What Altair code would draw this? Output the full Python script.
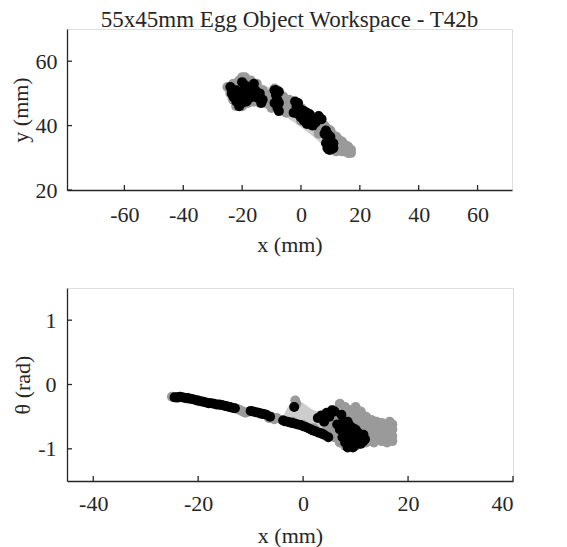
import altair as alt
import pandas as pd

# ---------------- data ----------------
# Top panel: object position x, y (mm)
top_gray_x = [-25, -24, -23, -22, -21, -20, -19, -18, -17, -16, -15, -14, -13, -12, -11, -10, -9, -8, -7, -6,
              -5, -4, -3, -2, -1, 0, 1, 2, 3, 4, 5, 6, 7, 8, 9, 10, 11, 12, 13, 14, 15, 16, 17, 16, 14, 12,
              -20, -18, -16, -22, -13, -10, -5, 0, 6, 11,
              -24, -23, -21, -19, -17, -15, -13, -11, -10, -9, -8, -6, -4, -3, -2, -1, 1, 2, 3, 5, 6, 7, 8, 9,
              10, 11, 12, 13, 14, 15, 16, 17, 13, 11, -14, -12]
top_gray_y = [52, 50, 48, 53, 54, 55, 53, 51, 54, 52, 53, 50, 51, 49, 47, 50, 51.5, 49, 47, 49,
              46.5, 48, 45, 46.5, 44, 45.5, 42.5, 44, 41, 42.5, 40, 42, 39, 40, 37, 38.5, 35, 36.5, 34, 35, 33, 33.5, 32.5, 31.5, 32, 32,
              46, 47, 47.5, 46, 47.5, 45.5, 44, 41.5, 37.5, 33,
              51, 53, 52, 55, 52, 51, 49, 49, 48, 47, 51, 47, 46, 47.5, 44, 45.5, 44.5, 42, 43, 42, 40, 41, 38, 39,
              36.5, 37, 34.5, 35.5, 33, 34, 32.5, 31.5, 33, 33, 47, 47]
top_black_x = [-24, -23.5, -23, -22, -21, -20, -19.5, -19, -18.5, -18, -17, -16, -15.5, -15, -14.5, -13.5, -17.5, -20.5, -22,
               -9, -8.5, -8, -9, -8, -7.5, -7.5,
               -2, -1.5, -2.5, -1, 0, 0.5, 1, 2, 2.5, 3, 4, 5, 6, 7, 4,
               8, 9, 8.5, 10, 9, 10.5, 11, 9.5, 8.5,
               -23, -21, -20, -19, -18, -16, -16.5, -14, -13, -21.5, -8.5, -7.5, -1, 0, 1, 3, 3.5, 2,
               9, 10, 11, 9, 10]
top_black_y = [52, 50, 49, 47.5, 46, 53.5, 51, 49, 47.5, 52, 50, 53, 51, 49, 48.5, 47, 48.5, 49.5, 51,
               51, 49.5, 48, 47, 45.5, 44.5, 50.5,
               47.5, 46, 44, 43.5, 45, 43, 41.5, 44, 42.5, 40.5, 42, 41, 43, 42, 40,
               37.5, 36, 34.5, 35, 33, 33.5, 34.5, 32.5, 38.5,
               51, 50, 47, 52.5, 50, 49, 51.5, 50, 48, 48, 51, 47, 47, 42.5, 44.5, 43.5, 41, 40.5,
               37.5, 36.5, 33, 34.5, 32.5]
top_hull_x = [-25, -20, -15, -10, -5, 0, 5, 10, 15, 17.5]
top_hull_lo = [48, 45.5, 46, 44.5, 42.5, 39.5, 36, 32, 31.5, 32]
top_hull_hi = [52.5, 55, 53.5, 51.5, 49, 46.5, 43.5, 39.5, 34.5, 33]

# Bottom panel: object orientation theta (rad) vs x (mm)
bot_gray_x = [-25, -24, -22, -20, -18, -16, -14, -12.5, -11.5, -10, -8, -6, -5, -4, -2, 0, 2, 4, 5, -1.5, -1.3,
              4, 5, 6, 7, 8, 9, 10, 11, 12, 13, 14, 15, 16, 17, 17, 17, 17, 16, 15, 14, 13, 12, 11, 10, 9, 8, 7, 6,
              12, 14, 16, 13, 15, 10, 11, 8, 6, 7,
              9, 10, 11, 12, 13, 14, 15, 16, 13, 12, 14, 15, 16, 11, 9, 8, 10, 12, 13.5, 16.5, 7, 6, 5, 5, 6, 7, 8,
              -12, -11, -6.5, -5.5]
bot_gray_y = [-0.19, -0.21, -0.22, -0.26, -0.29, -0.32, -0.35, -0.38, -0.42, -0.42, -0.46, -0.5, -0.52, -0.55, -0.58, -0.63, -0.68, -0.74, -0.78, -0.25, -0.3,
              -0.55, -0.45, -0.4, -0.3, -0.35, -0.4, -0.35, -0.42, -0.5, -0.55, -0.58, -0.62, -0.65, -0.62, -0.7, -0.8, -0.88, -0.9, -0.88, -0.85, -0.88, -0.9, -0.92, -0.95, -0.92, -0.9, -0.85, -0.82,
              -0.7, -0.72, -0.75, -0.62, -0.8, -0.6, -0.65, -0.55, -0.65, -0.7,
              -0.6, -0.7, -0.75, -0.8, -0.75, -0.65, -0.7, -0.85, -0.68, -0.62, -0.8, -0.6, -0.7, -0.55, -0.5, -0.45, -0.48, -0.58, -0.9, -0.58, -0.5, -0.5, -0.6, -0.7, -0.75, -0.9, -0.95,
              -0.4, -0.44, -0.52, -0.54]
bot_black_x = [-24.5, -24, -23, -22, -21, -20, -19, -18, -17, -16, -15, -14, -13,
               -10, -9, -8, -7, -6.3,
               -3.8, -3, -2, -1, 0, 1, 2, 3, 4, 4.8,
               -1.7, 2.8, 3.5, 4.5, 5.5, 7.3, 4,
               6.5, 7.5, 8.5, 9, 8, 9.5, 10, 11, 11.5, 10.5, 9, 8, 9, 7.5, 10, 11.5,
               -23.5, -22.5, -21.5, -20.5, -19.5, -18.5, -17.5, -16.5, -15.5, -14.5, -13.5, -9.5, -8.5, -7.5,
               -3.5, -2.5, -1.5, -0.5, 0.5, 1.5, 2.5, 3.5, 8.5, 9.5, 10.5, 11, 8.5, 9.5, 7, 8, 10.5, 11.8, 9.5, 5, 6]
bot_black_y = [-0.2, -0.2, -0.2, -0.21, -0.23, -0.25, -0.27, -0.29, -0.3, -0.31, -0.33, -0.35, -0.37,
               -0.41, -0.43, -0.45, -0.47, -0.5,
               -0.56, -0.58, -0.6, -0.62, -0.65, -0.68, -0.72, -0.75, -0.78, -0.82,
               -0.35, -0.52, -0.48, -0.44, -0.4, -0.47, -0.58,
               -0.62, -0.6, -0.58, -0.65, -0.72, -0.75, -0.82, -0.8, -0.88, -0.92, -0.95, -0.9, -0.85, -0.82, -0.7, -0.78,
               -0.19, -0.21, -0.22, -0.24, -0.26, -0.28, -0.29, -0.31, -0.32, -0.34, -0.36, -0.42, -0.44, -0.46,
               -0.57, -0.59, -0.61, -0.63, -0.66, -0.7, -0.73, -0.76, -0.8, -0.88, -0.85, -0.92, -0.98, -0.98, -0.7, -0.65, -0.75, -0.85, -0.68, -0.5, -0.42]
bot_hull_x = [-4, -1.5, 3, 6, 10, 13]
bot_hull_lo = [-0.55, -0.6, -0.7, -0.85, -0.9, -0.85]
bot_hull_hi = [-0.52, -0.24, -0.42, -0.36, -0.35, -0.55]

top_xticks = [-60, -40, -20, 0, 20, 40, 60]
top_yticks = [20, 40, 60]
bot_xticks = [-40, -20, 0, 20, 40]
bot_yticks = [-1, 0, 1]

# ---------------- styling ----------------
FONT = "Liberation Serif"
AX = "#262626"
LIGHT = "#cdcdcd"
GRAY = "#9a9a9a"
PT = 100
LBL = "'' + datum.value"


def panel(gx, gy, bx, by, hx, hlo, hhi, xdom, ydom, xt, yt, ytitle, W, H, xlabpad, ylabpad, xtitlepad):
    xs = alt.Scale(domain=xdom, nice=False, zero=False)
    ys = alt.Scale(domain=ydom, nice=False, zero=False)
    xax = alt.Axis(values=xt, grid=False, ticks=False, domainColor=AX, domainWidth=1.3, labelExpr=LBL,
                   labelFont=FONT, labelFontSize=22, labelColor=AX, labelPadding=xlabpad,
                   titleFont=FONT, titleFontSize=22, titleFontWeight="normal", titleColor=AX, titlePadding=xtitlepad)
    yax = alt.Axis(values=yt, grid=False, ticks=False, domainColor=AX, domainWidth=1.3, labelExpr=LBL,
                   labelFont=FONT, labelFontSize=22, labelColor=AX, labelPadding=ylabpad,
                   titleFont=FONT, titleFontSize=22, titleFontWeight="normal", titleColor=AX, titlePadding=3)
    hull = alt.Chart(pd.DataFrame({"x": hx, "lo": hlo, "hi": hhi})).mark_area(
        color=LIGHT, opacity=1, interpolate="monotone").encode(
        x=alt.X("x:Q", scale=xs, axis=xax, title="x (mm)"),
        y=alt.Y("lo:Q", scale=ys, axis=yax, title=ytitle),
        y2="hi:Q")
    gray = alt.Chart(pd.DataFrame({"x": gx, "y": gy})).mark_circle(
        color=GRAY, opacity=1, size=PT).encode(
        x=alt.X("x:Q", scale=xs), y=alt.Y("y:Q", scale=ys))
    black = alt.Chart(pd.DataFrame({"x": bx, "y": by})).mark_circle(
        color="black", opacity=1, size=PT).encode(
        x=alt.X("x:Q", scale=xs), y=alt.Y("y:Q", scale=ys))
    xtk = alt.Chart(pd.DataFrame({"t": xt})).mark_rule(color=AX, strokeWidth=1.3).encode(
        x=alt.X("t:Q", scale=xs), y=alt.value(H), y2=alt.value(H - 5))
    ytk = alt.Chart(pd.DataFrame({"t": yt})).mark_rule(color=AX, strokeWidth=1.3).encode(
        y=alt.Y("t:Q", scale=ys), x=alt.value(0), x2=alt.value(5))
    return alt.layer(hull, gray, black, xtk, ytk).properties(width=W, height=H)


top = panel(top_gray_x, top_gray_y, top_black_x, top_black_y, top_hull_x, top_hull_lo, top_hull_hi,
            [-79.5, 71.7], [20, 70], top_xticks, top_yticks, "y (mm)", 445, 161, 14, 10, 9).properties(
    title=alt.TitleParams("55x45mm Egg Object Workspace - T42b", font=FONT, fontSize=23,
                          fontWeight="normal", color=AX, anchor="middle", offset=-3))
bottom = panel(bot_gray_x, bot_gray_y, bot_black_x, bot_black_y, bot_hull_x, bot_hull_lo, bot_hull_hi,
               [-45, 40], [-1.5, 1.5], bot_xticks, bot_yticks, "θ (rad)", 446, 193, 12, 11, 11)

chart = alt.vconcat(top, bottom, spacing=31).properties(
    padding={"left": 0, "top": 0, "right": 5, "bottom": 5}
).configure_view(stroke=None).configure(background="white")

chart.save("out.html", embed_options={"renderer": "svg", "actions": False})
